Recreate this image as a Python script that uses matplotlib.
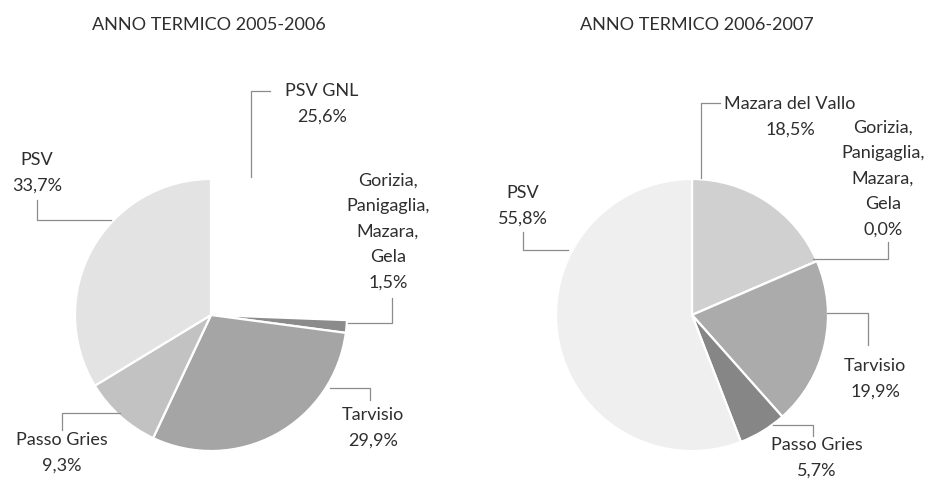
"""
Two pie charts: ripartizione per punto di entrata, anno termico 2005-2006 vs 2006-2007.
Drawn on one full-figure axes in pixel coordinates (y up).
"""
import matplotlib.pyplot as plt

plt.rcParams["font.family"] = ["Lato", "DejaVu Sans"]

W, H = 925, 482
TEXT = "#2e2e2e"
LINE = "#8c8c8c"

# --- data -------------------------------------------------------------------
titles = ["ANNO TERMICO 2005-2006", "ANNO TERMICO 2006-2007"]

labels_0506 = ["PSV GNL", "Gorizia,\nPanigaglia,\nMazara,\nGela", "Tarvisio",
               "Passo Gries", "PSV"]
values_0506 = [25.6, 1.5, 29.9, 9.3, 33.7]
colors_0506 = ["#ffffff", "#8b8b8b", "#a5a5a5", "#c2c2c2", "#e3e3e3"]

labels_0607 = ["Mazara del Vallo", "Gorizia,\nPanigaglia,\nMazara,\nGela",
               "Tarvisio", "Passo Gries", "PSV"]
values_0607 = [18.5, 0.0, 19.9, 5.7, 55.8]
colors_0607 = ["#d0d0d0", "#999999", "#ababab", "#868686", "#efefef"]

# --- layout (pixel coords, origin top-left) ---------------------------------
centers = [(211, 315), (692, 315)]
radius = 136
title_pos = [(209, 25), (697, 25)]

# label anchor (centre of first line) per slice
label_pos_0506 = [(322, 93), (388, 183), (373, 417), (62, 442), (37, 162)]
label_pos_0607 = [(790, 106), (883, 130), (875, 368), (817, 447), (523, 195)]

# leader polylines per slice
leaders_0506 = [
    [(270, 91), (251, 91), (251, 177)],
    [(348, 323), (392, 323), (392, 298)],
    [(330, 388), (370, 388), (370, 400)],
    [(120, 413), (62, 413), (62, 430)],
    [(111, 220), (37, 220), (37, 200)],
]
leaders_0607 = [
    [(720, 103), (701, 103), (701, 178)],
    [(813, 259), (888, 259), (888, 242)],
    [(827, 313), (868, 313), (868, 345)],
    [(773, 425), (813, 425), (813, 436)],
    [(568, 250), (523, 250), (523, 232)],
]


def fmt(v):
    return f"{v:.1f}".replace(".", ",") + "%"


def draw_pie(ax, values, colors, labels, center, lpos, leaders):
    cx, cy = center
    ax.pie(values, colors=colors, startangle=90, counterclock=False,
           center=(cx, H - cy), radius=radius, frame=True,
           wedgeprops=dict(edgecolor="white", linewidth=1.6))
    for lab, v, (lx, ly), pts in zip(labels, values, lpos, leaders):
        ax.text(lx, H - ly, f"{lab}\n{fmt(v)}", ha="center", va="top",
                fontsize=13, color=TEXT, linespacing=1.72,
                transform=ax.transData)
        xs = [p[0] for p in pts]
        ys = [H - p[1] for p in pts]
        ax.plot(xs, ys, color=LINE, lw=0.9)


fig = plt.figure(figsize=(W / 100, H / 100), dpi=100)
ax = fig.add_axes([0, 0, 1, 1])

draw_pie(ax, values_0506, colors_0506, labels_0506, centers[0],
         [(x, y - 10) for x, y in label_pos_0506], leaders_0506)
draw_pie(ax, values_0607, colors_0607, labels_0607, centers[1],
         [(x, y - 10) for x, y in label_pos_0607], leaders_0607)

for t, (tx, ty) in zip(titles, title_pos):
    ax.text(tx, H - ty, t, ha="center", va="center", fontsize=13, color=TEXT)

ax.set_xlim(0, W)
ax.set_ylim(0, H)
ax.set_aspect("auto")
ax.axis("off")

fig.savefig("out.png", dpi=100)
